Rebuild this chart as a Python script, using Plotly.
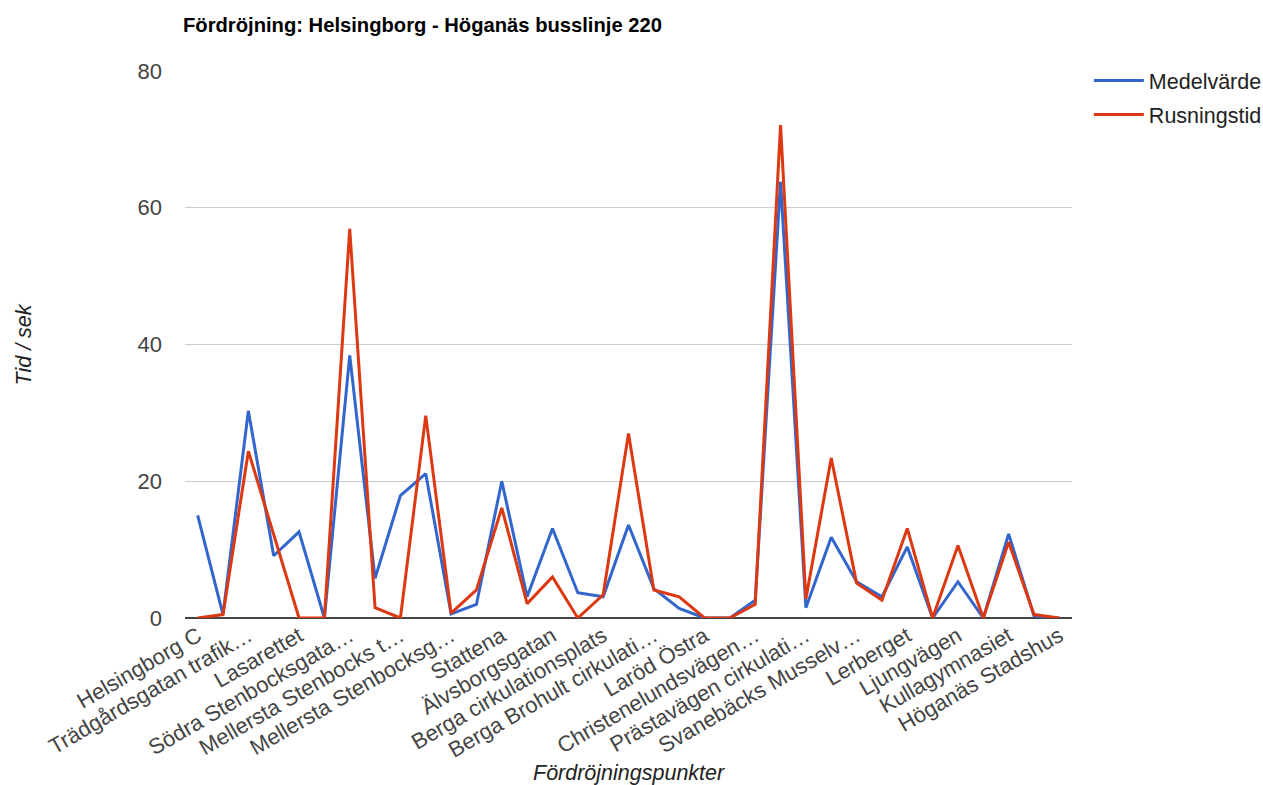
import plotly.graph_objects as go

# Delay per stop (seconds) along bus line 220
stop_labels = [
    "Helsingborg C", "Trädgårdsgatan trafik…", "Lasarettet",
    "Södra Stenbocksgata…", "Mellersta Stenbocks t…", "Mellersta Stenbocksg…",
    "Stattena", "Älvsborgsgatan", "Berga cirkulationsplats",
    "Berga Brohult cirkulati…", "Laröd Östra", "Christenelundsvägen…",
    "Prästavägen cirkulati…", "Svanebäcks Musselv…", "Lerberget",
    "Ljungvägen", "Kullagymnasiet", "Höganäs Stadshus",
]
medelvarde = [15.0, 0.5, 30.3, 9.1, 12.6, 0.0, 38.4, 5.8, 17.9, 21.1, 0.6, 2.0,
              20.0, 3.1, 13.1, 3.7, 3.1, 13.6, 4.3, 1.4, 0.0, 0.0, 2.6, 63.8,
              1.5, 11.8, 5.3, 3.1, 10.4, 0.0, 5.3, 0.0, 12.3, 0.3, 0.0]
rusningstid = [0.0, 0.5, 24.4, 12.1, 0.0, 0.0, 56.9, 1.5, 0.0, 29.6, 0.7, 4.1,
               16.1, 2.1, 6.0, 0.0, 3.4, 27.0, 4.1, 3.1, 0.0, 0.0, 2.0, 72.1,
               2.8, 23.4, 5.1, 2.6, 13.1, 0.0, 10.6, 0.0, 11.1, 0.5, 0.0]
y_ticks = [0, 20, 40, 60, 80]

x = list(range(len(medelvarde)))
label_pos = x[::2]  # every other stop is labelled

FONT = "Arial, Liberation Sans, sans-serif"

fig = go.Figure()
fig.add_trace(go.Scatter(x=x, y=medelvarde, mode="lines", name="Medelvärde",
                         legendgroup="a",
                         line=dict(color="#3366cc", width=3)))
fig.add_trace(go.Scatter(x=x, y=rusningstid, mode="lines", name="Rusningstid",
                         legendgroup="b",
                         line=dict(color="#dc3912", width=3)))

fig.update_layout(
    width=1263, height=785,
    margin=dict(l=185, r=191, t=71, b=167, autoexpand=False),
    paper_bgcolor="white", plot_bgcolor="white",
    font=dict(family=FONT, size=22, color="#444"),
    title=dict(text="<b>Fördröjning: Helsingborg - Höganäs busslinje 220</b>",
               font=dict(family=FONT, size=20.2, color="#000"),
               x=183 / 1263, xanchor="left", xref="container",
               y=1 - 25 / 785, yanchor="middle", yref="container"),
    showlegend=True,
    legend=dict(x=1.019, xanchor="left", y=1.02, yanchor="top",
                itemwidth=50,
                font=dict(family=FONT, size=21.5, color="#222"),
                tracegroupgap=3, bgcolor="rgba(0,0,0,0)"),
    xaxis=dict(range=[-0.5, len(x) - 0.5], tickmode="array",
               tickvals=label_pos, ticktext=stop_labels, tickangle=-30,
               showgrid=False, zeroline=False, showline=False, ticks="",
               tickfont=dict(family=FONT, size=22, color="#444")),
    yaxis=dict(range=[0, 80], tickmode="array", tickvals=y_ticks,
               showgrid=True, gridcolor="#cccccc", gridwidth=1,
               zeroline=True, zerolinecolor="#444", zerolinewidth=1.5,
               showline=False, ticks="", ticklabelstandoff=22,
               tickfont=dict(family=FONT, size=22, color="#444")),
    annotations=[
        dict(text="<i>Fördröjningspunkter</i>", xref="paper", yref="paper",
             x=0.5, y=-(773 - 618) / 547, xanchor="center", yanchor="middle",
             showarrow=False, font=dict(family=FONT, size=21.5, color="#222")),
        dict(text="<i>Tid / sek</i>", xref="paper", yref="paper",
             x=-(185 - 23) / 887, y=0.5, xanchor="center", yanchor="middle",
             textangle=-90, showarrow=False,
             font=dict(family=FONT, size=21.5, color="#222")),
    ],
)

fig.write_html("out.html")
